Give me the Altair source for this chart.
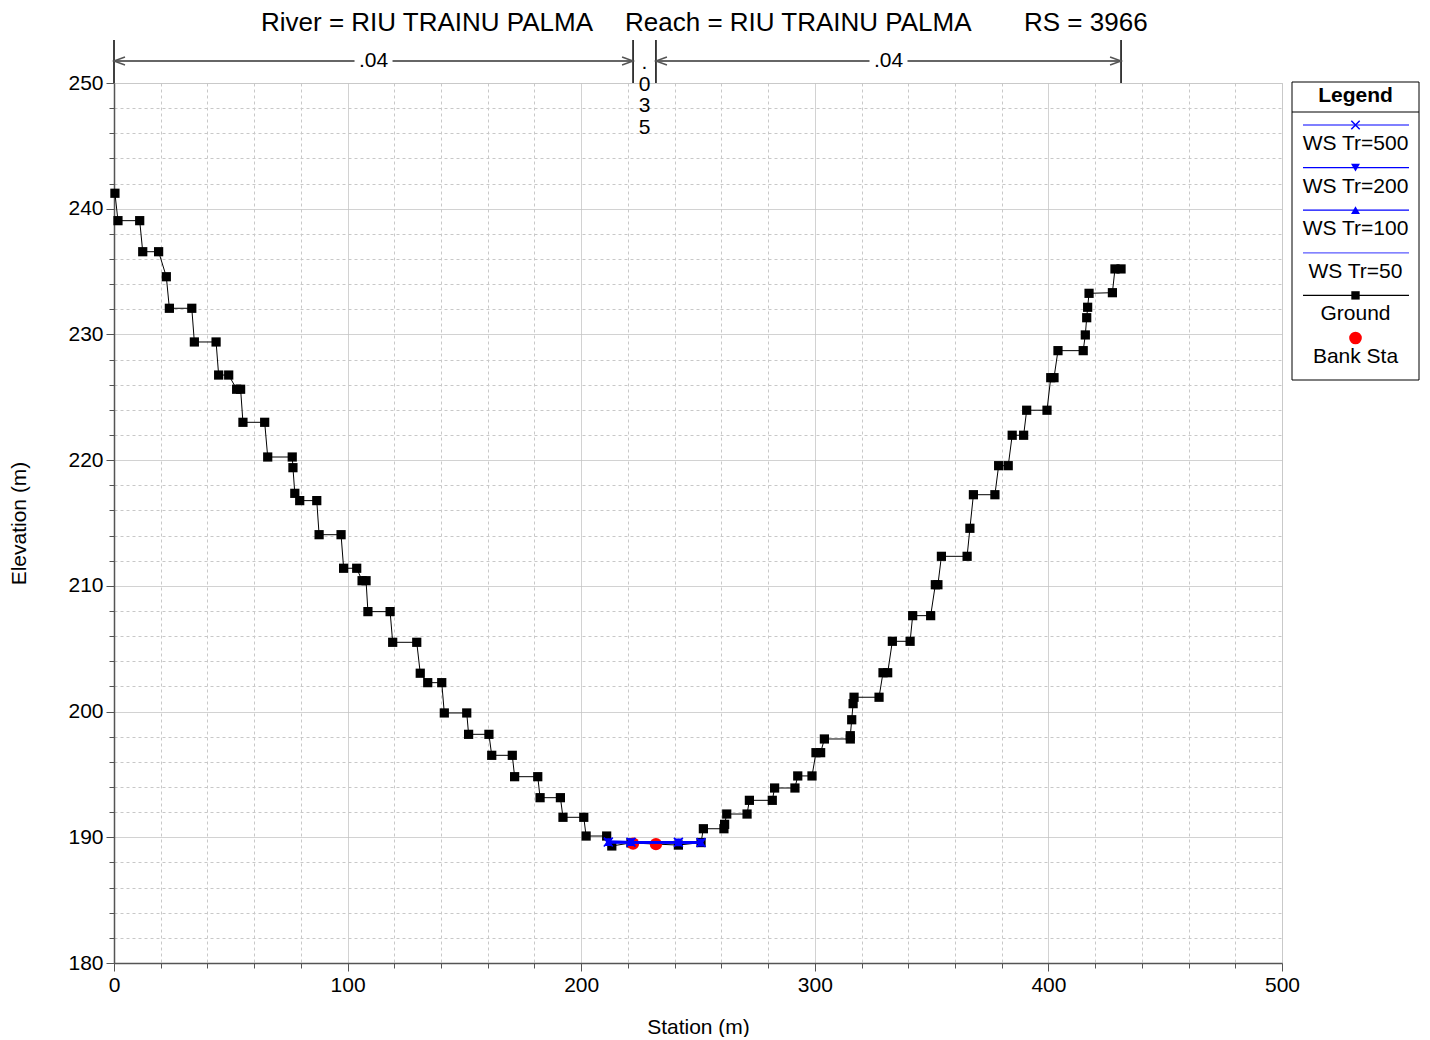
import altair as alt
import pandas as pd

FONT = "Liberation Sans"

# ------------------------------------------------------------------ data
ground_station = [0.4, 1.7, 11.0, 12.3, 19.1, 22.4, 23.7, 33.3, 34.4, 43.7,
                  44.8, 49.1, 52.5, 54.2, 55.2, 64.5, 65.8, 76.3, 76.6, 77.4,
                  79.5, 86.8, 87.8, 97.2, 98.3, 103.9, 106.2, 107.9, 108.7, 118.2,
                  119.3, 129.6, 131.1, 134.3, 140.3, 141.4, 151.0, 151.8, 160.5, 161.7,
                  170.5, 171.5, 181.4, 182.4, 191.1, 192.2, 201.1, 202.1, 210.9, 213.1,
                  221.3, 241.6, 251.3, 252.3, 261.1, 261.4, 262.3, 271.0, 272.0, 281.8,
                  282.8, 291.5, 292.7, 298.8, 300.5, 302.5, 304.1, 315.2, 315.2, 315.8,
                  316.4, 316.8, 327.5, 329.2, 331.2, 333.2, 340.8, 341.9, 349.6, 351.6,
                  352.7, 354.2, 365.2, 366.4, 367.9, 377.1, 378.7, 382.8, 384.5, 389.4,
                  390.7, 399.4, 401.0, 402.4, 404.1, 414.9, 415.8, 416.4, 416.8, 417.4,
                  427.4, 428.5, 431.1]
ground_elev = [241.23, 239.05, 239.05, 236.58, 236.58, 234.59, 232.08, 232.08, 229.40, 229.40,
               226.77, 226.77, 225.64, 225.64, 223.01, 223.01, 220.25, 220.25, 219.40, 217.36,
               216.78, 216.78, 214.07, 214.07, 211.40, 211.40, 210.41, 210.41, 207.95, 207.95,
               205.51, 205.51, 203.05, 202.30, 202.30, 199.89, 199.89, 198.19, 198.19, 196.52,
               196.52, 194.82, 194.82, 193.15, 193.15, 191.59, 191.59, 190.10, 190.10, 189.31,
               189.55, 189.38, 189.58, 190.68, 190.68, 191.03, 191.85, 191.85, 192.94, 192.94,
               193.92, 193.92, 194.88, 194.88, 196.73, 196.73, 197.82, 197.82, 198.08, 199.35,
               200.63, 201.14, 201.14, 203.09, 203.09, 205.59, 205.59, 207.63, 207.63, 210.09,
               210.09, 212.35, 212.35, 214.58, 217.25, 217.25, 219.56, 219.56, 221.98, 221.98,
               223.97, 223.97, 226.56, 226.56, 228.71, 228.71, 229.96, 231.33, 232.16, 233.27,
               233.32, 235.21, 235.21]

ws_names = ["WS Tr=500", "WS Tr=200", "WS Tr=100", "WS Tr=50"]
ws_station = [211.6, 221.3, 241.6, 251.3]
ws_elev = [189.62, 189.61, 189.60, 189.58]

bank_station = [222.2, 232.0]
bank_elev = [189.50, 189.45]

n_bounds = [0.0, 222.2, 232.0, 431.1]
n_values = [".04", ".035", ".04"]

title_parts = ["River = RIU TRAINU PALMA", "Reach = RIU TRAINU PALMA", "RS = 3966"]
legend_labels = ["WS Tr=500", "WS Tr=200", "WS Tr=100", "WS Tr=50", "Ground", "Bank Sta"]

# ------------------------------------------------------------------ layout
W, H = 1168, 880
XMIN, XMAX, YMIN, YMAX = 0, 500, 180, 250
PX_X = W / (XMAX - XMIN)
PX_Y = H / (YMAX - YMIN)

BLUE = "#0000ff"
XPATH = "M-1,-1L1,1M-1,1L1,-1"
ARROW_L = "M2.2,-0.8L0,0L2.2,0.8"
ARROW_R = "M-2.2,-0.8L0,0L-2.2,0.8"

major_y = "datum.value % 10 === 0"
major_x = "datum.value % 100 === 0"


def axis(major, values, **kw):
    return alt.Axis(
        values=values,
        labelExpr=f"{major} ? datum.label : ''",
        labelOverlap=False,
        labelFont=FONT, labelFontSize=21, labelColor="black",
        titleFont=FONT, titleFontSize=21, titleFontWeight="normal", titleColor="black",
        domainColor="#555555", domainWidth=1.5,
        tickColor="#555555", tickWidth=1,
        tickSize={"condition": {"test": major, "value": 8}, "value": 5},
        grid=True,
        gridColor={"condition": {"test": major, "value": "#c2c2c2"}, "value": "#c8c8c8"},
        gridDash={"condition": {"test": major, "value": [1, 0]}, "value": [3, 3]},
        gridWidth=1,
        **kw,
    )


x_axis = axis(major_x, list(range(0, 501, 20)), labelFlush=False, labelPadding=3,
              titleX=W / 2, titleY=64, titleBaseline="middle", titleAlign="center")
y_axis = axis(major_y, list(range(180, 251, 2)), labelPadding=3,
              titleX=-95, titleY=H / 2, titleAngle=270, titleBaseline="middle",
              titleAlign="center")

X = alt.X("sta:Q", scale=alt.Scale(domain=[XMIN, XMAX], nice=False, zero=False),
          axis=x_axis, title="Station (m)")
Y = alt.Y("elev:Q", scale=alt.Scale(domain=[YMIN, YMAX], nice=False, zero=False),
          axis=y_axis, title="Elevation (m)")

# ------------------------------------------------------------------ tables
gdf = pd.DataFrame({"sta": ground_station, "elev": ground_elev,
                    "i": range(len(ground_station))})
ws_rows = []
for s in ws_names:
    for st, el in zip(ws_station, ws_elev):
        ws_rows.append({"series": s, "sta": st, "elev": el})
wdf = pd.DataFrame(ws_rows)
bdf = pd.DataFrame({"sta": bank_station, "elev": bank_elev})

# n-value annotation rows (above the plot frame)
arrow_el = YMAX + 22 / PX_Y
top_el = YMAX + 43 / PX_Y
gap = 19 / PX_X
vert = pd.DataFrame({"sta": n_bounds, "elev": [YMAX] * len(n_bounds),
                     "elev2": [top_el] * len(n_bounds)})
seg_rows, arrowL_rows, arrowR_rows, htext_rows, vtext_rows = [], [], [], [], []
for a, b, v in zip(n_bounds[:-1], n_bounds[1:], n_values):
    mid = (a + b) / 2
    if (b - a) * PX_X > 60:
        seg_rows.append({"sta": a, "sta2": mid - gap, "elev": arrow_el})
        seg_rows.append({"sta": mid + gap, "sta2": b, "elev": arrow_el})
        arrowL_rows.append({"sta": a, "elev": arrow_el})
        arrowR_rows.append({"sta": b, "elev": arrow_el})
        htext_rows.append({"sta": mid, "elev": arrow_el, "t": v})
    else:
        vtext_rows.append({"sta": mid, "elev": YMAX + 14 / PX_Y, "t": "\n".join(list(v))})

# ------------------------------------------------------------------ layers
ground_line = alt.Chart(gdf).mark_line(color="black", strokeWidth=1).encode(
    x=X, y=Y, order="i:Q")
ground_pts = alt.Chart(gdf).mark_point(shape="square", filled=True, size=85,
                                       color="black", opacity=1).encode(x=X, y=Y)
bank_pts = alt.Chart(bdf).mark_circle(color="#ff0000", size=150, opacity=1).encode(x=X, y=Y)
ws_lines = alt.Chart(wdf).mark_line(color=BLUE, strokeWidth=2.5).encode(
    x=X, y=Y, detail="series:N")
ws_x = alt.Chart(wdf[wdf.series == "WS Tr=500"]).mark_point(
    shape=XPATH, filled=False, color=BLUE, size=80, strokeWidth=1.6, opacity=1).encode(x=X, y=Y)
ws_tri = alt.Chart(wdf[wdf.series.isin(["WS Tr=200", "WS Tr=100"])]).mark_point(
    filled=True, color=BLUE, size=80, opacity=1).encode(
    x=X, y=Y,
    shape=alt.Shape("series:N", scale=alt.Scale(domain=["WS Tr=200", "WS Tr=100"],
                                                  range=["triangle-down", "triangle-up"]),
                    legend=None))

n_vert = alt.Chart(vert).mark_rule(color="black", strokeWidth=1.5).encode(
    x=X, y=Y, y2="elev2:Q")
n_seg = alt.Chart(pd.DataFrame(seg_rows)).mark_rule(color="#666666", strokeWidth=1.8).encode(
    x=X, x2="sta2:Q", y=Y)
n_arrow_l = alt.Chart(pd.DataFrame(arrowL_rows)).mark_point(
    shape=ARROW_L, filled=False, color="#555555", size=100, strokeWidth=1.5,
    opacity=1).encode(x=X, y=Y)
n_arrow_r = alt.Chart(pd.DataFrame(arrowR_rows)).mark_point(
    shape=ARROW_R, filled=False, color="#555555", size=100, strokeWidth=1.5,
    opacity=1).encode(x=X, y=Y)
n_htext = alt.Chart(pd.DataFrame(htext_rows)).mark_text(
    font=FONT, fontSize=21, baseline="middle", align="center", color="black").encode(
    x=X, y=Y, text="t:N")
n_vtext = alt.Chart(pd.DataFrame(vtext_rows)).mark_text(
    font=FONT, fontSize=21, baseline="alphabetic", align="center", color="black",
    lineBreak="\n", lineHeight=21.5).encode(x=X, y=Y, text="t:N")

one = pd.DataFrame({"k": [0]})

# title pieces (pixel offsets from the plot's top-left corner)
title_x = [147, 511, 910]
title_layers = [
    alt.Chart(one).mark_text(text=t, font=FONT, fontSize=26, align="left",
                             baseline="alphabetic", color="black").encode(
        x=alt.value(tx), y=alt.value(-52))
    for t, tx in zip(title_parts, title_x)
]

# custom legend box
LL, LR, LT, LB = 1178, 1305, -1, 297
LC = (LL + LR) / 2
legend_layers = [
    alt.Chart(one).mark_rect(fill="white", stroke="black", strokeWidth=1).encode(
        x=alt.value(LL), x2=alt.value(LR), y=alt.value(LT), y2=alt.value(LB)),
    alt.Chart(one).mark_rule(color="black", strokeWidth=1).encode(
        x=alt.value(LL), x2=alt.value(LR), y=alt.value(29)),
    alt.Chart(one).mark_text(text="Legend", font=FONT, fontSize=21, fontWeight="bold",
                             align="center", baseline="middle", color="black").encode(
        x=alt.value(LC), y=alt.value(13)),
]
leg_style = [
    (BLUE, XPATH, False, 70),
    (BLUE, "triangle-down", True, 80),
    (BLUE, "triangle-up", True, 80),
    ("#5a5aff", None, True, 0),
    ("black", "square", True, 70),
    ("#ff0000", "circle", True, 160),
]
for i, (lab, (col, shp, fil, sz)) in enumerate(zip(legend_labels, leg_style)):
    ly = 42 + 42.6 * i
    if lab != "Bank Sta":
        legend_layers.append(
            alt.Chart(one).mark_rule(color=col if lab != "Ground" else "black",
                                     strokeWidth=1.2).encode(
                x=alt.value(LL + 11), x2=alt.value(LR - 10), y=alt.value(ly)))
    if shp is not None:
        legend_layers.append(
            alt.Chart(one).mark_point(shape=shp, filled=fil, color=col, size=sz,
                                      strokeWidth=1.5, opacity=1).encode(
                x=alt.value(LC), y=alt.value(ly)))
    legend_layers.append(
        alt.Chart(one).mark_text(text=lab, font=FONT, fontSize=21, align="center",
                                 baseline="middle", color="black").encode(
            x=alt.value(LC), y=alt.value(ly + 19)))

chart = alt.layer(
    ground_line, ground_pts, bank_pts, ws_lines, ws_x, ws_tri,
    n_vert, n_seg, n_arrow_l, n_arrow_r, n_htext, n_vtext,
    *title_layers, *legend_layers,
).properties(
    width=W, height=H,
    autosize=alt.AutoSizeParams(type="none"),
    padding={"left": 106, "top": 75, "right": 140, "bottom": 74},
).configure_view(stroke=None).configure(font=FONT)

chart.save("out.html", embed_options={"renderer": "svg", "actions": False})
